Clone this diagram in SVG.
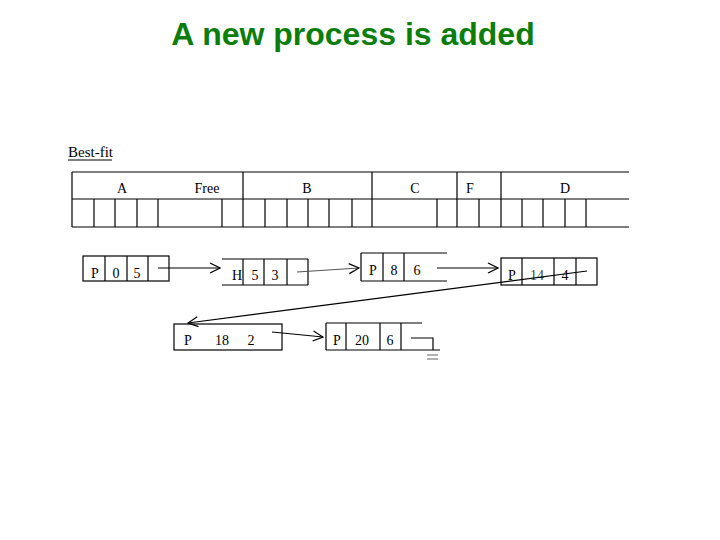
<svg xmlns="http://www.w3.org/2000/svg" width="720" height="540" viewBox="0 0 720 540">
<defs>
<style>
.ln{stroke:#000;stroke-width:1.2;fill:none}
.tx{font-family:"Liberation Serif","Times New Roman",serif;font-size:14px;fill:#000}
.c{text-anchor:middle}
.title{font-family:"Liberation Sans",Arial,sans-serif;font-size:32px;font-weight:bold;fill:#0b7d0b;text-anchor:middle}
</style>
<marker id="ah" markerWidth="12" markerHeight="12" refX="11" refY="6" orient="auto" markerUnits="userSpaceOnUse">
<polyline points="1,1 11,6 1,11" fill="none" stroke="#000" stroke-width="1.2"/>
</marker>
</defs>
<rect width="720" height="540" fill="#fff"/>
<text class="title" x="353" y="45">A new process is added</text>
<g id="label">
<text class="tx" x="68" y="157" style="font-size:15px">Best-fit</text>
<line class="ln" x1="68" y1="160" x2="112" y2="160"/>
</g>
<g id="memory-table">
<path class="ln" d="M72,172H629M72,199H629M72,227H629M72,172V227M243,172V227M372,172V227M457,172V227M501,172V227
M94,199V227M115,199V227M137,199V227M158,199V227M222,199V227M265,199V227M287,199V227M308,199V227M329,199V227M352,199V227M437,199V227M479,199V227M522,199V227M543,199V227M565,199V227M586,199V227"/>
<text class="tx c" x="122" y="193">A</text>
<text class="tx c" x="207" y="193">Free</text>
<text class="tx c" x="307" y="193">B</text>
<text class="tx c" x="415" y="193">C</text>
<text class="tx c" x="470" y="193">F</text>
<text class="tx c" x="565" y="193">D</text>
</g>
<g id="node-p0">
<rect class="ln" x="83" y="256" width="86" height="25"/>
<path class="ln" d="M105,256V281M127,256V281M148,256V281"/>
<text class="tx c" x="95" y="278">P</text>
<text class="tx c" x="116" y="278">0</text>
<text class="tx c" x="137" y="278">5</text>
</g>
<g id="node-h5">
<path class="ln" d="M222,259H308M222,285H308M243,259V285M264,259V285M287,259V285M308,259V285"/>
<text class="tx c" x="237" y="280">H</text>
<text class="tx c" x="255" y="280">5</text>
<text class="tx c" x="275" y="280">3</text>
</g>
<g id="node-p8">
<path class="ln" d="M361,253H447M361,281H447M361,253V281M383,253V281M404,253V281"/>
<text class="tx c" x="373" y="275">P</text>
<text class="tx c" x="394" y="275">8</text>
<text class="tx c" x="417" y="275">6</text>
</g>
<g id="node-p14">
<rect class="ln" x="501" y="258" width="96" height="27"/>
<path class="ln" d="M522,258V285M554,258V285M576,258V285"/>
<text class="tx c" x="512" y="280">P</text>
<text class="tx c" x="537" y="280" style="fill:#444">14</text>
<text class="tx c" x="565" y="280">4</text>
</g>
<g id="node-p18">
<rect class="ln" x="174" y="324" width="108" height="26"/>
<text class="tx c" x="188" y="345">P</text>
<text class="tx c" x="222" y="345">18</text>
<text class="tx c" x="251" y="345">2</text>
</g>
<g id="node-p20">
<path class="ln" d="M326,323H422M326,350H440M326,323V350M346,323V350M380,323V350M401,323V350"/>
<text class="tx c" x="337" y="345">P</text>
<text class="tx c" x="362" y="345">20</text>
<text class="tx c" x="390" y="345">6</text>
<polyline class="ln" points="411,338 433,338 433,350"/>
<path class="ln" d="M427,355H438M427,359H438" style="stroke:#666"/>
</g>
<g id="connectors">
<line class="ln" x1="158" y1="268" x2="220" y2="268" marker-end="url(#ah)"/>
<line class="ln" x1="297" y1="272" x2="359" y2="268" marker-end="url(#ah)" style="stroke:#555"/>
<line class="ln" x1="437" y1="268" x2="498" y2="268" marker-end="url(#ah)"/>
<line class="ln" x1="587" y1="271" x2="188" y2="323" marker-end="url(#ah)"/>
<line class="ln" x1="272" y1="332" x2="323" y2="337" marker-end="url(#ah)"/>
</g>
</svg>
